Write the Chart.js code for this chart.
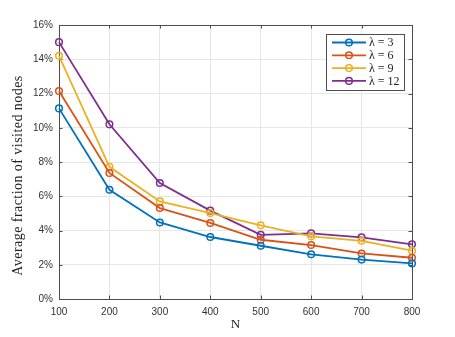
<!DOCTYPE html>
<html>
<head>
<meta charset="utf-8">
<script src="https://cdn.jsdelivr.net/npm/chart.js@4/dist/chart.umd.min.js"></script>
<style>
  body { margin: 0; background: #fff; }
  #wrap { width: 455px; height: 337px; }
</style>
</head>
<body>
<div id="wrap"><canvas id="myChart" width="455" height="337"></canvas></div>
<script>
// Data (percent of visited nodes)
const nValues = [100, 200, 300, 400, 500, 600, 700, 800];
const lambda3 = [11.13, 6.38, 4.47, 3.62, 3.11, 2.61, 2.30, 2.08];
const lambda6 = [12.15, 7.36, 5.31, 4.44, 3.46, 3.15, 2.66, 2.41];
const lambda9 = [14.20, 7.72, 5.70, 5.02, 4.30, 3.66, 3.40, 2.82];
const lambda12 = [15.00, 10.20, 6.77, 5.16, 3.75, 3.83, 3.60, 3.19];
const seriesLabels = ['λ = 3', 'λ = 6', 'λ = 9', 'λ = 12'];
const seriesColors = ['#0072BD', '#D95319', '#EDB120', '#7E2F8E'];
const yTicks = [0, 2, 4, 6, 8, 10, 12, 14, 16];
const yTitle = 'Average fraction of visited nodes';

const axisColor = '#4d4d4d';
const serif = '"Liberation Serif", "DejaVu Serif", serif';

function makeDataset(label, values, color)
{
  return {
    label: label,
    data: nValues.map((n, i) => ({ x: n, y: values[i] })),
    borderColor: color,
    backgroundColor: color,
    borderWidth: 1.8,
    pointRadius: 3.3,
    pointBorderWidth: 1.5,
    pointBackgroundColor: 'rgba(0,0,0,0)',
    pointBorderColor: color,
    tension: 0,
    clip: false
  };
}

// box around the axes + inward ticks like matlab
const framePlugin = {
  id: 'frame',
  beforeDatasetsDraw(chart) {
    const { ctx, chartArea: a, scales } = chart;
    ctx.save();
    ctx.strokeStyle = axisColor;
    ctx.lineWidth = 1;
    ctx.strokeRect(a.left + 0.5, a.top + 0.5, a.right - a.left, a.bottom - a.top);
    const tl = 3.5;
    ctx.beginPath();
    nValues.forEach(v => {
      const px = Math.round(scales.x.getPixelForValue(v)) + 0.5;
      ctx.moveTo(px, a.bottom); ctx.lineTo(px, a.bottom - tl);
      ctx.moveTo(px, a.top); ctx.lineTo(px, a.top + tl);
    });
    yTicks.forEach(v => {
      const py = Math.round(scales.y.getPixelForValue(v)) + 0.5;
      ctx.moveTo(a.left, py); ctx.lineTo(a.left + tl, py);
      ctx.moveTo(a.right, py); ctx.lineTo(a.right - tl, py);
    });
    ctx.stroke();

    // y axis title (sits a bit below the axis centre in the original)
    ctx.save();
    ctx.translate(18.5, 175.5);
    ctx.rotate(-Math.PI / 2);
    ctx.font = '14px ' + serif;
    if ('letterSpacing' in ctx) ctx.letterSpacing = '0.45px';
    ctx.fillStyle = '#222';
    ctx.textAlign = 'center';
    ctx.textBaseline = 'middle';
    ctx.fillText(yTitle, 0, 0);
    ctx.restore();
    ctx.restore();
  }
};

// legend box in the top right corner of the axes
const legendPlugin = {
  id: 'boxLegend',
  afterDraw(chart) {
    const { ctx, chartArea: a } = chart;
    const boxW = 78, boxH = 56;
    const x0 = a.right - 8 - boxW;
    const y0 = a.top + 9;
    ctx.save();
    ctx.fillStyle = '#fff';
    ctx.fillRect(x0, y0, boxW, boxH);
    ctx.strokeStyle = axisColor;
    ctx.lineWidth = 1;
    ctx.strokeRect(x0 + 0.5, y0 + 0.5, boxW, boxH);
    ctx.font = '12px ' + serif;
    ctx.textBaseline = 'middle';
    ctx.textAlign = 'left';
    chart.data.datasets.forEach((ds, i) => {
      const y = y0 + 8.5 + i * 12.8;
      ctx.strokeStyle = ds.borderColor;
      ctx.lineWidth = 1.8;
      ctx.beginPath();
      ctx.moveTo(x0 + 6, y); ctx.lineTo(x0 + 40, y);
      ctx.stroke();
      ctx.lineWidth = 1.5;
      ctx.beginPath();
      ctx.arc(x0 + 23, y, 3.3, 0, Math.PI * 2);
      ctx.stroke();
      ctx.fillStyle = '#222';
      ctx.fillText(ds.label, x0 + 43, y + 0.5);
    });
    ctx.restore();
  }
};

const config = {
  type: 'line',
  data: {
    datasets: [
      makeDataset(seriesLabels[0], lambda3, seriesColors[0]),
      makeDataset(seriesLabels[1], lambda6, seriesColors[1]),
      makeDataset(seriesLabels[2], lambda9, seriesColors[2]),
      makeDataset(seriesLabels[3], lambda12, seriesColors[3])
    ]
  },
  options: {
    responsive: false,
    animation: false,
    devicePixelRatio: 1,
    layout: { padding: { top: 25, right: 43, left: 0, bottom: 0 } },
    plugins: {
      legend: { display: false },
      tooltip: { enabled: false }
    },
    scales: {
      x: {
        type: 'linear',
        min: 100,
        max: 800,
        afterFit: s => { s.height = 38; },
        afterBuildTicks: s => { s.ticks = nValues.map(v => ({ value: v })); },
        grid: { color: '#e6e6e6', drawTicks: false },
        border: { display: false },
        ticks: {
          padding: 7,
          color: '#333',
          font: { family: '"Liberation Sans", Arial, sans-serif', size: 10 },
          maxRotation: 0
        },
        title: {
          display: true,
          text: 'N',
          color: '#222',
          font: { family: serif, size: 13 },
          padding: { top: 0, bottom: 5 }
        }
      },
      y: {
        min: 0,
        max: 16,
        afterFit: s => { s.width = 59; },
        afterBuildTicks: s => { s.ticks = yTicks.map(v => ({ value: v })); },
        grid: { color: '#e6e6e6', drawTicks: false },
        border: { display: false },
        ticks: {
          padding: 6,
          color: '#333',
          font: { family: '"Liberation Sans", Arial, sans-serif', size: 10 },
          callback: v => v + '%'
        },
        title: { display: false }
      }
    }
  },
  plugins: [framePlugin, legendPlugin]
};

const myChart = new Chart(document.getElementById('myChart'), config);
</script>
</body>
</html>
